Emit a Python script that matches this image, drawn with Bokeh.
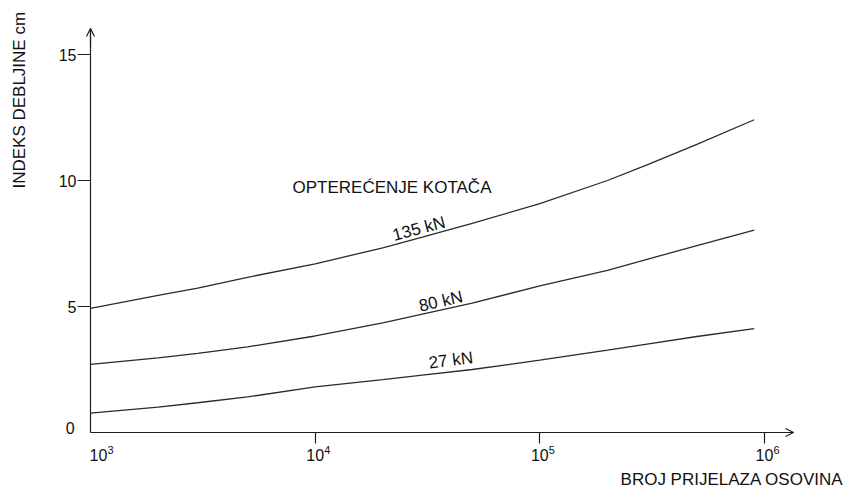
import math
from bokeh.plotting import figure
from bokeh.models import (FixedTicker, Label, LabelSet, Arrow, OpenHead,
                          ColumnDataSource, Range1d, BasicTickFormatter)
from bokeh.core.properties import value
from bokeh.embed import file_html
from bokeh.resources import INLINE

# ---- data ----
axle_passes = [1000, 2000, 3000, 5000, 10000, 20000, 30000, 50000,
               100000, 200000, 300000, 500000, 900000]
load_135kN = [4.93, 5.44, 5.73, 6.16, 6.69, 7.33, 7.75, 8.30,
              9.08, 10.00, 10.62, 11.43, 12.41]
load_80kN = [2.70, 2.96, 3.14, 3.40, 3.83, 4.35, 4.70, 5.13,
             5.82, 6.43, 6.87, 7.42, 8.03]
load_27kN = [0.77, 1.01, 1.18, 1.41, 1.81, 2.10, 2.28, 2.50,
             2.87, 3.27, 3.51, 3.81, 4.12]

x_tick_values = [1000, 10000, 100000, 1000000]
x_tick_base = ["10", "10", "10", "10"]
x_tick_exp = ["3", "4", "5", "6"]
y_tick_values = [5, 10, 15]

FONT = "Liberation Sans"
INK = "#111111"
LINE = "#1e1e1e"

X_END = 10 ** 6.129   # arrow tip of the x axis
Y_END = 16.03         # arrow tip of the y axis

p = figure(width=845, height=489, x_axis_type="log",
           x_range=Range1d(10 ** 2.59941, 10 ** 6.36049),
           y_range=Range1d(-2.2619, 17.1429),
           output_backend="svg", toolbar_location=None,
           min_border_left=0, min_border_right=0,
           min_border_top=0, min_border_bottom=0)
p.title.visible = False
p.xgrid.visible = False
p.ygrid.visible = False
p.outline_line_color = None
p.background_fill_color = "white"
p.border_fill_color = "white"

# x axis (its labels are drawn below as 10 + superscript)
p.xaxis.fixed_location = 0
p.xaxis.bounds = (1000, X_END)
p.xaxis.ticker = FixedTicker(ticks=[1e4, 1e5, 1e6])
p.xaxis.formatter = BasicTickFormatter()
p.xaxis.major_tick_out = 11
p.xaxis.major_tick_in = 0
p.xaxis.minor_tick_line_color = None
p.xaxis.axis_line_color = LINE
p.xaxis.axis_line_width = 1.2
p.xaxis.major_tick_line_color = LINE
p.xaxis.major_tick_line_width = 1.2
p.xaxis.major_label_text_color = None
p.xaxis.major_label_text_font_size = "10px"

# y axis
p.yaxis.fixed_location = 1000
p.yaxis.bounds = (0, Y_END)
p.yaxis.ticker = FixedTicker(ticks=y_tick_values)
p.yaxis.major_tick_out = 13
p.yaxis.major_tick_in = 0
p.yaxis.minor_tick_line_color = None
p.yaxis.axis_line_color = LINE
p.yaxis.axis_line_width = 1.2
p.yaxis.major_tick_line_color = LINE
p.yaxis.major_tick_line_width = 1.2
p.yaxis.major_label_standoff = 1
p.yaxis.major_label_text_font = FONT
p.yaxis.major_label_text_font_size = "16px"
p.yaxis.major_label_text_color = INK

# arrow heads on axes
p.add_layout(Arrow(end=OpenHead(size=8, line_color=LINE, line_width=1.2),
                   x_start=1000, y_start=15.3, x_end=1000, y_end=Y_END,
                   line_color=LINE, line_width=1.2))
p.add_layout(Arrow(end=OpenHead(size=8, line_color=LINE, line_width=1.2),
                   x_start=1e6, y_start=0, x_end=X_END, y_end=0,
                   line_color=LINE, line_width=1.2))

# curves
for vals in (load_135kN, load_80kN, load_27kN):
    p.line(axle_passes, vals, line_color="#2a2a2a", line_width=1.3)

# x tick labels (10 with superscript exponent)
tick_src = ColumnDataSource(dict(x=x_tick_values, base=x_tick_base, exp=x_tick_exp,
                                 dx=[8, 0, 0, 0], dxe=[17, 9, 9, 9]))
p.add_layout(LabelSet(x="x", y=-0.893, text="base", source=tick_src, x_offset="dx",
                      text_align="center", text_baseline="middle",
                      text_font=value(FONT), text_font_size=value("16px"),
                      text_color=INK))
p.add_layout(LabelSet(x="x", y=-0.714, text="exp", source=tick_src, x_offset="dxe",
                      text_align="left", text_baseline="middle",
                      text_font=value(FONT), text_font_size=value("11px"),
                      text_color=INK))

# y tick "0"
p.add_layout(Label(x=849, y=0.179, text="0", text_align="right",
                   text_baseline="middle", text_font=FONT,
                   text_font_size="16px", text_color=INK))

# axis titles
p.add_layout(Label(x=481, y=9.68, text="INDEKS DEBLJINE cm", angle=math.pi / 2,
                   text_align="left", text_baseline="middle", text_font=FONT,
                   text_font_size="17px", text_color=INK))
p.add_layout(Label(x=2.247e6, y=-1.865, text="BROJ PRIJELAZA OSOVINA",
                   text_align="right", text_baseline="middle", text_font=FONT,
                   text_font_size="17px", text_color=INK))

# annotations in the plot
p.add_layout(Label(x=7925, y=9.72, text="OPTEREĆENJE KOTAČA",
                   text_align="left", text_baseline="middle", text_font=FONT,
                   text_font_size="17px", text_color=INK))
p.add_layout(Label(x=22190, y=7.81, text="135 kN", angle=math.radians(15),
                   text_align="left", text_baseline="middle", text_font=FONT,
                   text_font_size="17px", text_color=INK))
p.add_layout(Label(x=29030, y=5.006, text="80 kN", angle=math.radians(13),
                   text_align="left", text_baseline="middle", text_font=FONT,
                   text_font_size="17px", text_color=INK))
p.add_layout(Label(x=32050, y=2.758, text="27 kN", angle=math.radians(7),
                   text_align="left", text_baseline="middle", text_font=FONT,
                   text_font_size="17px", text_color=INK))

open("out.html", "w").write(file_html(p, INLINE))
